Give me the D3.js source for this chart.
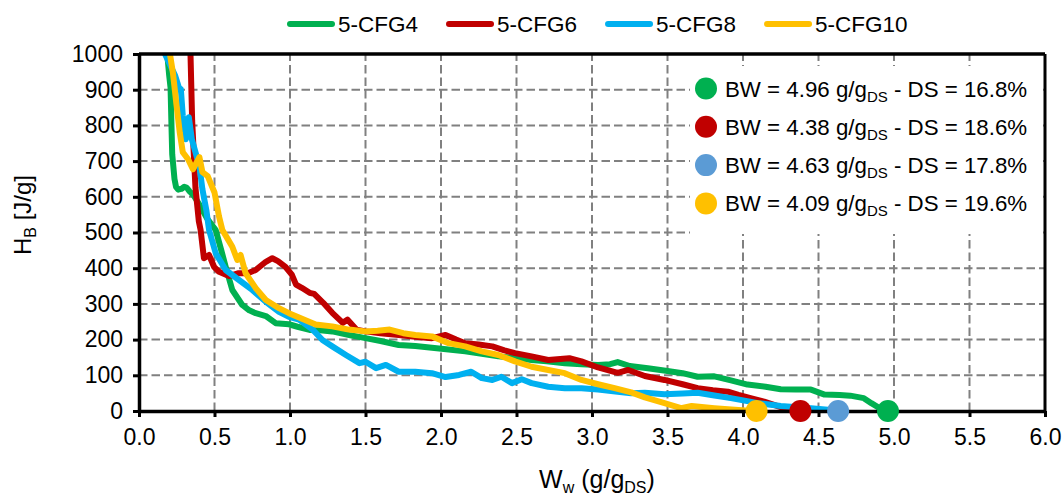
<!DOCTYPE html>
<html>
<head>
<meta charset="utf-8">
<script src="https://cdn.jsdelivr.net/npm/d3@7"></script>
<style>
  html, body { margin: 0; padding: 0; background: #fff; }
  svg { display: block; font-family: "Liberation Sans", Arial, sans-serif; }
</style>
</head>
<body>
<svg id="chart" width="1064" height="496"></svg>
<script>
// Series names and colours
const seriesNames = ["5-CFG4", "5-CFG6", "5-CFG8", "5-CFG10"];
const lineColors = ["#00b050", "#c00000", "#00b0f0", "#ffc000"];
const markerColors = ["#00b050", "#c00000", "#5b9bd5", "#ffc000"];

// Bound water (g/g_DS) and dry solids (%) for each sample
const bwValues = [4.96, 4.38, 4.63, 4.09];
const dsValues = [16.8, 18.6, 17.8, 19.6];

// Binding enthalpy H_B [J/g] against water content W_w [g/g_DS]
const cfg4 = [
  [0.187,1000],[0.200,940],[0.209,906],[0.215,800],[0.220,719],[0.235,650],[0.245,628],[0.260,620],
  [0.280,622],[0.300,628],[0.315,626],[0.335,615],[0.360,605],[0.400,578],[0.450,540],[0.508,507],
  [0.545,450],[0.574,404],[0.618,339],[0.684,297],[0.730,282],[0.773,274],[0.840,266],[0.905,246],
  [0.993,243],[1.050,236],[1.130,227],[1.200,226],[1.280,223],[1.400,212],[1.500,204],[1.600,196],
  [1.720,185],[1.830,182],[1.940,177],[2.050,172],[2.160,167],[2.270,160],[2.380,153],[2.500,148],
  [2.600,143],[2.700,139],[2.820,134],[2.930,131],[3.040,129],[3.120,131],[3.170,137],[3.250,126],
  [3.370,120],[3.500,112],[3.600,106],[3.700,96],[3.810,97],[3.920,86],[4.030,74],[4.150,68],
  [4.250,61],[4.350,60],[4.450,60],[4.540,46],[4.640,45],[4.710,43],[4.800,36],[4.850,22],[4.920,4]
];
const cfg6 = [
  [0.341,1000],[0.352,813],[0.374,625],[0.396,532],[0.408,507],[0.430,428],[0.464,437],[0.497,404],
  [0.530,390],[0.596,378],[0.660,386],[0.720,386],[0.773,395],[0.840,418],[0.883,428],[0.920,420],
  [0.970,404],[1.012,382],[1.040,354],[1.078,345],[1.130,331],[1.160,328],[1.220,303],[1.280,275],
  [1.350,247],[1.380,256],[1.440,228],[1.500,223],[1.600,218],[1.720,213],[1.830,208],[1.940,204],
  [2.030,213],[2.100,200],[2.160,190],[2.250,186],[2.340,181],[2.420,170],[2.490,162],[2.600,153],
  [2.710,143],[2.850,148],[2.930,139],[3.040,122],[3.170,107],[3.240,115],[3.350,98],[3.480,87],
  [3.600,75],[3.700,64],[3.800,58],[3.900,54],[3.970,45],[4.050,36],[4.140,26],[4.270,8],[4.320,2]
];
const cfg8 = [
  [0.172,1000],[0.200,975],[0.240,939],[0.265,905],[0.277,902],[0.290,827],[0.310,761],[0.330,823],
  [0.350,761],[0.400,686],[0.420,621],[0.447,560],[0.464,507],[0.508,442],[0.574,395],[0.662,367],
  [0.750,339],[0.840,306],[0.927,278],[0.993,264],[1.060,256],[1.150,228],[1.215,199],[1.280,181],
  [1.370,157],[1.460,134],[1.500,138],[1.570,120],[1.635,129],[1.720,110],[1.830,110],[1.940,106],
  [2.030,95],[2.120,101],[2.200,110],[2.270,92],[2.340,87],[2.400,96],[2.470,78],[2.535,89],
  [2.600,78],[2.710,68],[2.820,64],[2.930,64],[3.040,60],[3.170,54],[3.260,50],[3.350,51],
  [3.480,47],[3.600,49],[3.700,51],[3.800,44],[3.920,36],[4.100,22],[4.250,14],[4.450,8],[4.600,2]
];
const cfg10 = [
  [0.205,1000],[0.224,949],[0.249,855],[0.270,780],[0.290,725],[0.325,705],[0.357,677],[0.400,711],
  [0.420,669],[0.455,658],[0.500,612],[0.530,545],[0.552,507],[0.590,480],[0.618,460],[0.651,423],
  [0.673,437],[0.706,386],[0.773,344],[0.840,311],[0.927,288],[0.993,274],[1.060,262],[1.170,242],
  [1.280,237],[1.390,228],[1.500,223],[1.580,225],[1.660,228],[1.750,218],[1.830,213],[1.940,209],
  [2.050,190],[2.160,181],[2.270,167],[2.380,157],[2.490,139],[2.600,124],[2.710,115],[2.820,106],
  [2.930,87],[3.040,75],[3.150,64],[3.260,52],[3.350,38],[3.480,22],[3.590,8],[3.660,14],
  [3.810,8],[3.970,3],[4.040,1]
];
const seriesData = [cfg4, cfg6, cfg8, cfg10];

// Axis ticks
const xTicks = [0, 0.5, 1.0, 1.5, 2.0, 2.5, 3.0, 3.5, 4.0, 4.5, 5.0, 5.5, 6.0];
const yTicks = [0, 100, 200, 300, 400, 500, 600, 700, 800, 900, 1000];

const svg = d3.select("#chart");
const plot = { left: 139, right: 1045, top: 54, bottom: 411 };

const x = d3.scaleLinear().domain([0, 6]).range([plot.left, plot.right]);
const y = d3.scaleLinear().domain([0, 1000]).range([plot.bottom, plot.top]);

svg.append("defs").append("clipPath").attr("id", "plotClip")
  .append("rect")
  .attr("x", plot.left).attr("y", plot.top)
  .attr("width", plot.right - plot.left).attr("height", plot.bottom - plot.top);

// Dashed gridlines
const grid = svg.append("g").attr("stroke", "#808080").attr("stroke-width", 2)
  .attr("stroke-dasharray", "8.5,4");
grid.selectAll("line.h").data(yTicks.filter(v => v > 0 && v < 1000)).join("line")
  .attr("class", "h")
  .attr("x1", plot.left).attr("x2", plot.right)
  .attr("y1", d => y(d)).attr("y2", d => y(d));
grid.selectAll("line.v").data(xTicks.filter(v => v > 0 && v < 6)).join("line")
  .attr("class", "v")
  .attr("y1", plot.bottom).attr("y2", plot.top)
  .attr("x1", d => x(d)).attr("x2", d => x(d));

// Curves
const line = d3.line().x(d => x(d[0])).y(d => y(d[1]));
svg.append("g").attr("clip-path", "url(#plotClip)")
  .selectAll("path").data(seriesData).join("path")
  .attr("d", line)
  .attr("fill", "none")
  .attr("stroke", (d, i) => lineColors[i])
  .attr("stroke-width", 6)
  .attr("stroke-linejoin", "round")
  .attr("stroke-linecap", "round");

// Frame (top and right)
svg.append("line").attr("x1", plot.left).attr("x2", plot.right)
  .attr("y1", plot.top).attr("y2", plot.top)
  .attr("stroke", "#000").attr("stroke-width", 3.5);
svg.append("line").attr("x1", plot.right).attr("x2", plot.right)
  .attr("y1", plot.top).attr("y2", plot.bottom)
  .attr("stroke", "#000").attr("stroke-width", 3);

// Axes
const xAxis = d3.axisBottom(x).tickValues(xTicks).tickFormat(d3.format(".1f"))
  .tickSizeInner(6).tickSizeOuter(0).tickPadding(12);
const yAxis = d3.axisLeft(y).tickValues(yTicks).tickFormat(d3.format("d"))
  .tickSizeInner(6).tickSizeOuter(0).tickPadding(10);

const gx = svg.append("g").attr("transform", `translate(0,${plot.bottom})`).call(xAxis);
const gy = svg.append("g").attr("transform", `translate(${plot.left},0)`).call(yAxis);
[gx, gy].forEach(g => {
  g.select(".domain").attr("stroke", "#000").attr("stroke-width", 3.5);
  g.selectAll(".tick line").attr("stroke", "#000").attr("stroke-width", 3);
  g.selectAll(".tick text").attr("fill", "#000").attr("font-size", 23)
    .attr("font-family", "'Liberation Sans', Arial, sans-serif");
});

// Water-content markers on the baseline
const markers = bwValues.map((v, i) => ({ v, i }));
svg.append("g").selectAll("circle").data(markers).join("circle")
  .attr("cx", d => x(d.v)).attr("cy", y(0)).attr("r", 11)
  .attr("fill", d => markerColors[d.i]);

// Inner legend with BW / DS values
const legBox = { x: 690, y: 66, w: 353, h: 168 };
svg.append("rect").attr("x", legBox.x).attr("y", legBox.y)
  .attr("width", legBox.w).attr("height", legBox.h).attr("fill", "#fff");
const legRows = svg.append("g").selectAll("g").data(markers).join("g")
  .attr("transform", (d, i) => `translate(706,${88.5 + i * 38.3})`);
legRows.append("circle").attr("r", 11).attr("fill", d => markerColors[d.i]);
const legText = legRows.append("text").attr("x", 19).attr("y", 8)
  .attr("font-size", 22.3).attr("fill", "#000");
legText.append("tspan").text(d => `BW = ${d.v.toFixed(2)} g/g`);
legText.append("tspan").attr("font-size", 15).attr("dy", 5).text("DS");
legText.append("tspan").attr("dy", -5).text(d => ` - DS = ${dsValues[d.i].toFixed(1)}%`);

// Top legend with series lines
const topLeg = svg.append("g").attr("transform", "translate(287,24)");
let cursor = 0;
seriesNames.forEach((name, i) => {
  topLeg.append("line").attr("x1", cursor + 3).attr("x2", cursor + 45)
    .attr("y1", 0).attr("y2", 0)
    .attr("stroke", lineColors[i]).attr("stroke-width", 6).attr("stroke-linecap", "round");
  const t = topLeg.append("text").attr("x", cursor + 51).attr("y", 8)
    .attr("font-size", 22.5).attr("fill", "#000").text(name);
  cursor += 51 + t.node().getComputedTextLength() + 28;
});

// Axis titles
const yTitle = svg.append("text")
  .attr("transform", "translate(31,215) rotate(-90)")
  .attr("text-anchor", "middle").attr("font-size", 24).attr("fill", "#000");
yTitle.append("tspan").text("H");
yTitle.append("tspan").attr("font-size", 16).attr("dy", 5).text("B");
yTitle.append("tspan").attr("dy", -5).text(" [J/g]");

const xTitle = svg.append("text")
  .attr("x", 597).attr("y", 488)
  .attr("text-anchor", "middle").attr("font-size", 25).attr("fill", "#000");
xTitle.append("tspan").text("W");
xTitle.append("tspan").attr("font-size", 16).attr("dy", 5).text("w");
xTitle.append("tspan").attr("dy", -5).text(" (g/g");
xTitle.append("tspan").attr("font-size", 16).attr("dy", 5).text("DS");
xTitle.append("tspan").attr("dy", -5).text(")");
</script>
</body>
</html>
